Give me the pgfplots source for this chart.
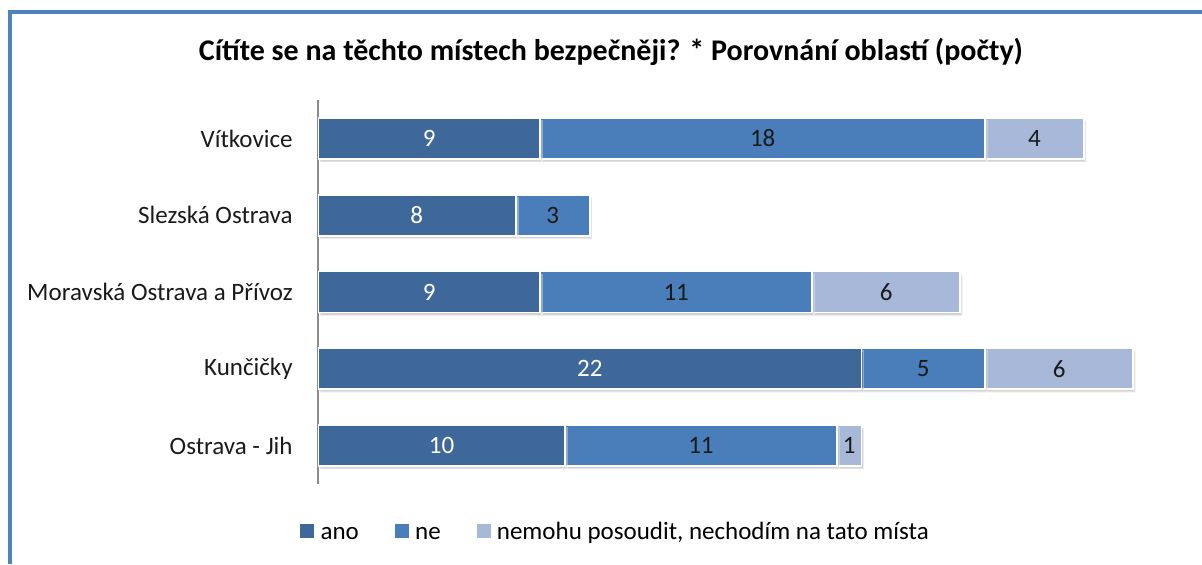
\documentclass[border=0pt]{standalone}
\usepackage{fontspec}
\setmainfont{Carlito}
\usepackage{pgfplots}
\pgfplotsset{compat=1.18}
\usetikzlibrary{shadows}
\definecolor{anoc}{HTML}{3E6899}
\definecolor{nec}{HTML}{4A7EBB}
\definecolor{nemc}{HTML}{A8B8D8}
\definecolor{framec}{HTML}{4F81BD}
\definecolor{txtc}{HTML}{1A1A1A}

\begin{document}
\begin{tikzpicture}
  \useasboundingbox (0,0) rectangle (601pt,282pt);
  % frame (only top and left edges are visible)
  \draw[framec, line width=1.6pt] (5pt,0) -- (5pt,276pt) -- (601pt,276pt);
  \node[font=\fontsize{15}{17}\selectfont\bfseries, text=black] at (305.5pt,256pt)
    {Cítíte se na těchto místech bezpečněji? * Porovnání oblastí (počty)};
  \begin{axis}[
    at={(159pt,40pt)}, anchor=south west,
    scale only axis,
    width=420pt, height=192pt,
    xbar stacked,
    bar width=20.5pt,
    xmin=0, xmax=34,
    ymin=-0.5, ymax=4.5,
    axis x line=none,
    axis y line*=left,
    y axis line style={draw=black!45, line width=0.6pt},
    major tick length=0pt,
    ytick={0,1,2,3,4},
    yticklabels={Ostrava - Jih, Kunčičky, Moravská Ostrava a Přívoz, Slezská Ostrava, Vítkovice},
    yticklabel style={font=\fontsize{12.5}{15}\selectfont, text=txtc, anchor=east, inner sep=0pt, xshift=-12.5pt},
    /pgf/number format/assume math mode=true,
    visualization depends on=rawx \as \rawx,
    nodes near coords={\ifdim\rawx pt>0pt\pgfmathprintnumber{\rawx}\fi},
    nodes near coords align=center,
    every node near coord/.append style={anchor=center, font=\fontsize{12.5}{15}\selectfont},
    legend style={at={(-0.0214,-0.131)}, anchor=west, draw=none, fill=none,
      inner sep=0pt, font=\fontsize{12.5}{15}\selectfont,
      nodes={text height=8.5pt, text depth=3pt},
      legend columns=3,
      /tikz/every odd column/.append style={column sep=1.2pt},
      /tikz/every even column/.append style={column sep=16pt}},
    legend cell align=left,
  ]
    \addlegendimage{area legend, legend image code/.code={\fill[anoc] (0pt,-1.5pt) rectangle (6.5pt,5pt);}}
    \addlegendentry{ano}
    \addlegendimage{area legend, legend image code/.code={\fill[nec] (0pt,-1.5pt) rectangle (6.5pt,5pt);}}
    \addlegendentry{ne}
    \addlegendimage{area legend, legend image code/.code={\fill[nemc] (0pt,-1.5pt) rectangle (6.5pt,5pt);}}
    \addlegendentry{nemohu posoudit, nechodím na tato místa}

    % ano
    \addplot[forget plot, fill=anoc, draw=white, line width=0.9pt,
      drop shadow={shadow xshift=1pt, shadow yshift=-1.5pt, opacity=0.35},
      every node near coord/.append style={text=white}]
      coordinates {(10,0) (22,1) (9,2) (8,3) (9,4)};
    % ne
    \addplot[forget plot, fill=nec, draw=white, line width=0.9pt,
      drop shadow={shadow xshift=1pt, shadow yshift=-1.5pt, opacity=0.35},
      every node near coord/.append style={text=txtc}]
      coordinates {(11,0) (5,1) (11,2) (3,3) (18,4)};
    % nemohu posoudit
    \addplot[forget plot, fill=nemc, draw=white, line width=0.9pt,
      drop shadow={shadow xshift=1pt, shadow yshift=-1.5pt, opacity=0.35},
      every node near coord/.append style={text=txtc}]
      coordinates {(1,0) (6,1) (6,2) (0,3) (4,4)};
  \end{axis}
\end{tikzpicture}
\end{document}
